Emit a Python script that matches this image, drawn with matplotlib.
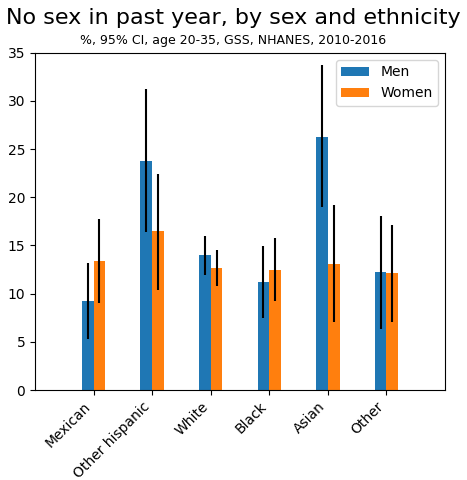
import matplotlib
matplotlib.use("Agg")
import matplotlib.pyplot as plt
import numpy as np

groups = ["Mexican", "Other hispanic", "White", "Black", "Asian", "Other"]
men = [9.2, 23.8, 14.0, 11.2, 26.3, 12.2]
men_lo = [5.3, 16.4, 11.9, 7.5, 19.0, 6.3]
men_hi = [13.2, 31.2, 16.0, 14.9, 33.7, 18.1]
women = [13.4, 16.5, 12.7, 12.5, 13.1, 12.1]
women_lo = [9.0, 10.4, 10.8, 9.2, 7.1, 7.1]
women_hi = [17.7, 22.4, 14.5, 15.8, 19.2, 17.1]

fig = plt.figure(figsize=(4.67, 4.8), dpi=100)
ax = fig.add_axes([0.075, 0.1875, 0.878, 0.7025])
x = np.arange(1, len(groups) + 1)
w = 0.2
ax.bar(x - w/2, men, w, color="#1f77b4", label="Men")
ax.bar(x + w/2, women, w, color="#ff7f0e", label="Women")
ax.vlines(x - w/2, men_lo, men_hi, color="black", lw=1.5)
ax.vlines(x + w/2, women_lo, women_hi, color="black", lw=1.5)
ax.set_xlim(0, 7)
ax.set_ylim(0, 35)
ax.set_xticks(x)
ax.set_xticklabels(groups, rotation=45, ha="right")
ax.legend(loc="upper right")
fig.text(0.5, 0.962, "No sex in past year, by sex and ethnicity", ha="center", va="center", fontsize=16)
fig.text(0.5, 0.916, "%, 95% CI, age 20-35, GSS, NHANES, 2010-2016", ha="center", va="center", fontsize=9)
fig.savefig("out.png", dpi=100)
